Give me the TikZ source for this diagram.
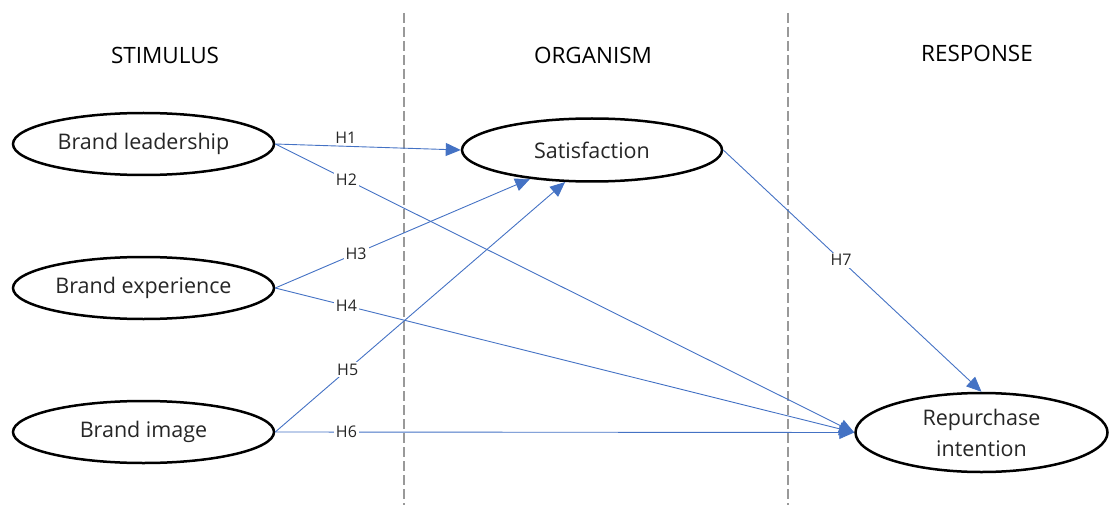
\documentclass[tikz,border=0pt]{standalone}
\usepackage{fontspec}
\setmainfont{Open Sans}
\usetikzlibrary{arrows.meta,shapes.geometric}
\definecolor{hypblue}{HTML}{4472C4}

\begin{document}
\begin{tikzpicture}[x=1pt,y=-1pt,
		construct/.style={ellipse,draw,line width=2.5pt,inner sep=0pt,align=center,font=\fontsize{21.5}{31}\selectfont,text=black!85},
		header/.style={font=\fontsize{22.5}{26}\selectfont,text=black},
		hyp/.style={draw=hypblue,line width=0.9pt,-{Triangle[length=15pt,width=13pt]}},
		hlabel/.style={fill=white,inner sep=2pt,font=\fontsize{16}{18}\selectfont,text=black!85},
		divider/.style={draw=black!40,line width=1.8pt,dash pattern=on 10pt off 4pt}]
			\useasboundingbox (0,0) rectangle (1110,505);
			% columns
			\draw[divider] (404,13) -- (404,505);
			\draw[divider] (788,13) -- (788,505);
			\node[header] (stim) at (165,55) {STIMULUS};
			\node[header] (org) at (593,55) {ORGANISM};
			\node[header] (resp) at (977,53) {RESPONSE};
			% constructs
			\node[construct, minimum width=261pt, minimum height=62pt] (lead) at (143.5,144) {Brand leadership};
			\node[construct, minimum width=261pt, minimum height=62pt] (exp) at (143.5,288) {Brand experience};
			\node[construct, minimum width=261pt, minimum height=62pt] (img) at (143.5,432) {Brand image};
			\node[construct, minimum width=260pt, minimum height=63pt] (sat) at (592,150) {Satisfaction};
			\node[construct, minimum width=252pt, minimum height=79pt] (rep) at (981.5,432.5) {Repurchase\\intention};
			% hypotheses
			\draw[hyp] (lead.east) -- node[hlabel, fill=none, above, pos=0.38] {H1} (sat.west);
			\draw[hyp] (lead.east) -- node[hlabel, pos=0.123] {H2} (rep.west);
			\draw[hyp] (exp.east) -- node[hlabel, pos=0.317] {H3} (sat.205);
			\draw[hyp] (exp.east) -- node[hlabel, pos=0.123] {H4} (rep.west);
			\draw[hyp] (img.east) -- node[hlabel, pos=0.25] {H5} (sat.230);
			\draw[hyp] (img.east) -- node[hlabel, pos=0.123] {H6} (rep.west);
			\draw[hyp] (sat.east) -- node[hlabel, pos=0.456] {H7} (rep.north);
		\end{tikzpicture}
\end{document}
